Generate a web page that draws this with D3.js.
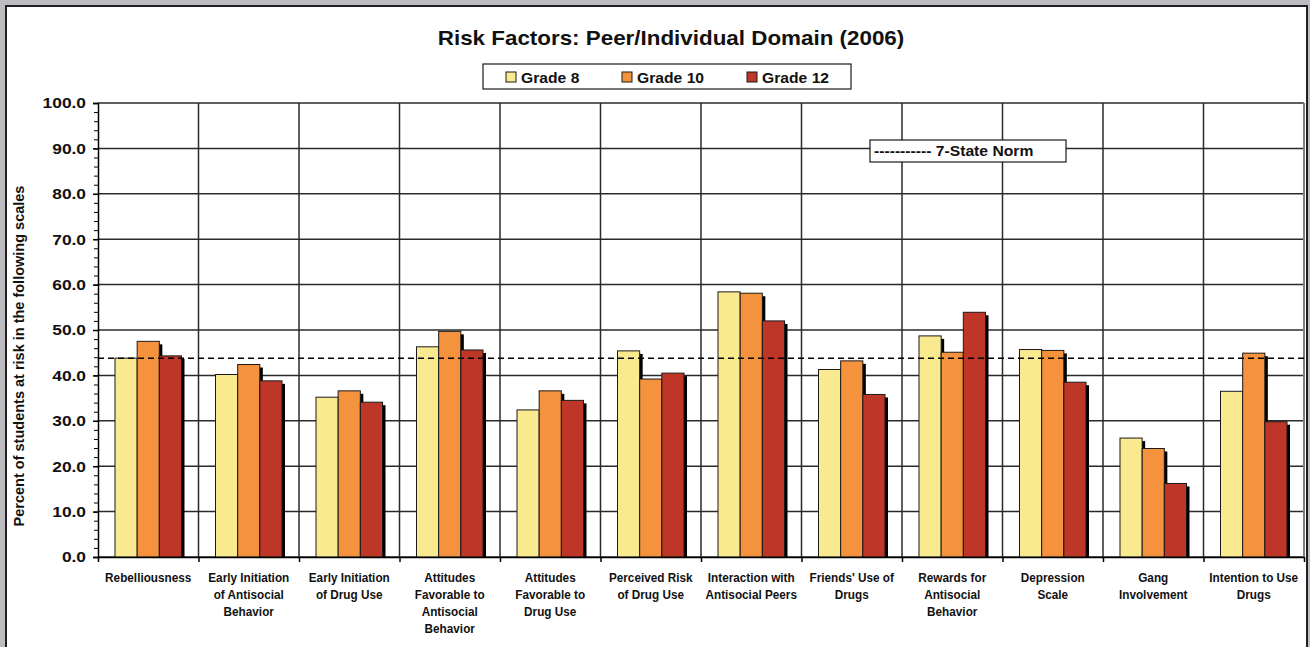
<!DOCTYPE html>
<html>
<head>
<meta charset="utf-8">
<script src="https://cdn.jsdelivr.net/npm/d3@7"></script>
<style>
  body { margin: 0; background: #bdbdc1; }
  svg { display: block; font-family: "Liberation Sans", Arial, sans-serif; font-weight: bold; }
</style>
</head>
<body>
<div id="chart"></div>
<script>
// chart data
const categories = [
  "Rebelliousness",
  "Early Initiation\nof Antisocial\nBehavior",
  "Early Initiation\nof Drug Use",
  "Attitudes\nFavorable to\nAntisocial\nBehavior",
  "Attitudes\nFavorable to\nDrug Use",
  "Perceived Risk\nof Drug Use",
  "Interaction with\nAntisocial Peers",
  "Friends' Use of\nDrugs",
  "Rewards for\nAntisocial\nBehavior",
  "Depression\nScale",
  "Gang\nInvolvement",
  "Intention to Use\nDrugs"
];
const seriesNames = ["Grade 8", "Grade 10", "Grade 12"];
const grade8  = [43.8, 40.2, 35.2, 46.3, 32.4, 45.4, 58.4, 41.3, 48.7, 45.7, 26.2, 36.5];
const grade10 = [47.5, 42.4, 36.6, 49.7, 36.6, 39.2, 58.1, 43.2, 45.1, 45.5, 23.9, 44.9];
const grade12 = [44.3, 38.8, 34.1, 45.6, 34.5, 40.5, 52.0, 35.8, 53.9, 38.5, 16.2, 29.8];
const stateNorm = 43.8;
const yTicks = [0, 10, 20, 30, 40, 50, 60, 70, 80, 90, 100];
const seriesColors = ["#faea8f", "#f5923d", "#bd3627"];

const W = 1310, H = 647;
const margin = {top: 103, right: 4, bottom: 90, left: 98};
const SX = 1.12; // text in the picture is a bit wide

// stretch a text horizontally around its own anchor
function stretch(sel, sx = SX) {
  sel.each(function() {
    const t = d3.select(this);
    const x = +t.attr("x") || 0, y = +t.attr("y") || 0;
    t.attr("transform", `translate(${x},${y}) scale(${sx},1) translate(${-x},${-y})`);
  });
}

const svg = d3.select("#chart").append("svg")
  .attr("width", W).attr("height", H);

// frame
svg.append("rect").attr("x", 6).attr("y", 6).attr("width", 1301).attr("height", H)
  .attr("fill", "#fff").attr("stroke", "#231f20").attr("stroke-width", 2);

const x0 = d3.scaleBand()
  .domain(categories)
  .range([margin.left, W - margin.right - 2]);

const x1 = d3.scaleBand()
  .domain(seriesNames)
  .range([17, x0.bandwidth() - 17]);

const y = d3.scaleLinear()
  .domain([0, 100])
  .range([H - margin.bottom, margin.top]);

const xEdge = d3.scaleLinear()
  .domain([0, categories.length])
  .range(x0.range());

// horizontal gridlines
svg.append("g")
  .selectAll("line")
  .data(yTicks)
  .join("line")
  .attr("x1", x0.range()[0]).attr("x2", x0.range()[1])
  .attr("y1", d => y(d)).attr("y2", d => y(d))
  .attr("stroke", "#2a2a2a").attr("stroke-width", 1.5);

// vertical separators
svg.append("g")
  .selectAll("line")
  .data(d3.range(1, categories.length))
  .join("line")
  .attr("x1", d => xEdge(d)).attr("x2", d => xEdge(d))
  .attr("y1", y(100)).attr("y2", y(0))
  .attr("stroke", "#2a2a2a").attr("stroke-width", 1.5);

// right border of plot
svg.append("line")
  .attr("x1", xEdge(categories.length)).attr("x2", xEdge(categories.length))
  .attr("y1", y(100)).attr("y2", y(0))
  .attr("stroke", "#808080").attr("stroke-width", 2);

// bars, each with its own drop shadow
const seriesData = [grade8, grade10, grade12];
const groups = svg.append("g")
  .selectAll("g")
  .data(categories)
  .join("g")
  .attr("transform", d => `translate(${x0(d)},0)`);

groups.each(function(cat, ci) {
  const g = d3.select(this);
  seriesNames.forEach((s, si) => {
    const v = seriesData[si][ci];
    g.append("rect")
      .attr("x", x1(s) + 3)
      .attr("y", y(v) + 3)
      .attr("width", x1.bandwidth())
      .attr("height", y(0) - y(v) - 3)
      .attr("fill", "#000");
    g.append("rect")
      .attr("x", x1(s))
      .attr("y", y(v))
      .attr("width", x1.bandwidth())
      .attr("height", y(0) - y(v))
      .attr("fill", seriesColors[si])
      .attr("stroke", "#1a1a1a")
      .attr("stroke-width", 1);
  });
});

// 7-state norm line
svg.append("line")
  .attr("x1", x0.range()[0]).attr("x2", x0.range()[1])
  .attr("y1", y(stateNorm)).attr("y2", y(stateNorm))
  .attr("stroke", "#000").attr("stroke-width", 1.5)
  .attr("stroke-dasharray", "6,4");

// y axis, major and minor ticks
const yAxis = svg.append("g")
  .attr("transform", `translate(${margin.left},0)`)
  .call(d3.axisLeft(y).tickValues(yTicks).tickSize(5).tickPadding(7)
    .tickFormat(d3.format(".1f")));
yAxis.selectAll("line").attr("stroke", "#000").attr("stroke-width", 1.5);
yAxis.select(".domain").attr("stroke", "#000").attr("stroke-width", 1.5);
yAxis.selectAll("text")
  .attr("fill", "#111")
  .style("font-size", "15.5px")
  .call(stretch);

svg.append("g")
  .attr("transform", `translate(${margin.left},0)`)
  .call(d3.axisLeft(y).tickValues(d3.range(0, 101, 2)).tickSize(4).tickFormat(""))
  .call(g => g.select(".domain").remove())
  .selectAll("line").attr("stroke", "#000").attr("stroke-width", 1);

// x axis with ticks on category edges
const xAxis = svg.append("g")
  .attr("transform", `translate(0,${y(0)})`)
  .call(d3.axisBottom(xEdge).tickValues(d3.range(0, categories.length + 1))
    .tickSize(5).tickSizeOuter(0).tickFormat(""));
xAxis.select(".domain").attr("stroke", "#000").attr("stroke-width", 1.5);
xAxis.selectAll("line").attr("stroke", "#000").attr("stroke-width", 1.5);

// category labels
const labels = svg.append("g")
  .selectAll("text")
  .data(categories)
  .join("text")
  .attr("x", d => x0(d) + x0.bandwidth() / 2)
  .attr("y", 582)
  .attr("text-anchor", "middle")
  .style("font-size", "12px")
  .attr("fill", "#111");
labels.each(function(d) {
  const t = d3.select(this);
  d.split("\n").forEach((line, i) => {
    t.append("tspan")
      .attr("x", x0(d) + x0.bandwidth() / 2)
      .attr("dy", i === 0 ? 0 : 17)
      .text(line);
  });
});
labels.call(stretch, 0.98);

// y axis title
svg.append("text")
  .attr("transform", "translate(24,356) rotate(-90)")
  .attr("text-anchor", "middle")
  .style("font-size", "14.5px")
  .attr("fill", "#111")
  .text("Percent of students at risk in the following scales");

// title
svg.append("text")
  .attr("x", 671).attr("y", 45)
  .attr("text-anchor", "middle")
  .style("font-size", "20px")
  .attr("fill", "#111")
  .text("Risk Factors: Peer/Individual Domain (2006)")
  .call(stretch);

// series legend
svg.append("rect")
  .attr("x", 483).attr("y", 64).attr("width", 368).attr("height", 25)
  .attr("fill", "#fff").attr("stroke", "#1a1a1a").attr("stroke-width", 1.2);
const legendX = [506, 622, 747];
seriesNames.forEach((s, i) => {
  svg.append("rect")
    .attr("x", legendX[i]).attr("y", 72).attr("width", 10).attr("height", 10)
    .attr("fill", seriesColors[i]).attr("stroke", "#1a1a1a").attr("stroke-width", 1);
  svg.append("text")
    .attr("x", legendX[i] + 15).attr("y", 83)
    .style("font-size", "14px")
    .attr("fill", "#111")
    .text(s)
    .call(stretch);
});

// norm legend
svg.append("rect")
  .attr("x", 870).attr("y", 140).attr("width", 196).attr("height", 22)
  .attr("fill", "#fff").attr("stroke", "#1a1a1a").attr("stroke-width", 1.2);
svg.append("text")
  .attr("x", 874).attr("y", 156)
  .style("font-size", "14px")
  .attr("fill", "#111")
  .text("----------- 7-State Norm")
  .call(stretch);
</script>
</body>
</html>
